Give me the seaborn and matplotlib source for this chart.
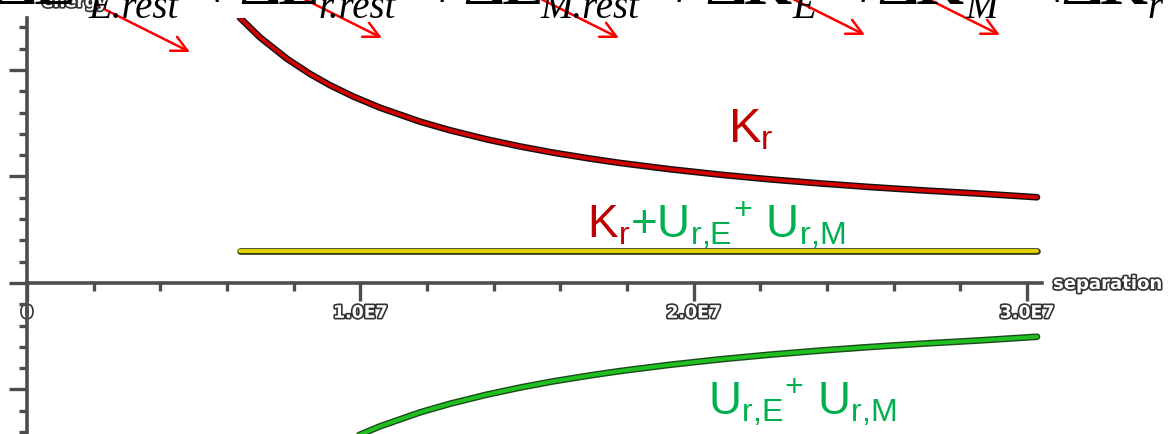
import matplotlib
matplotlib.use("Agg")
import matplotlib.pyplot as plt
import matplotlib.patheffects as pe
from matplotlib.ticker import MultipleLocator, FuncFormatter
import seaborn as sns

# --- data (separation in m, energy in arbitrary units) ---
kr_sep = [0.639e7, 0.699e7, 0.780e7, 0.849e7, 0.909e7, 0.978e7, 1.059e7, 1.179e7,
          1.269e7, 1.380e7, 1.479e7, 1.578e7, 1.689e7, 1.779e7, 1.929e7, 2.079e7,
          2.229e7, 2.379e7, 2.529e7, 2.679e7, 2.859e7, 3.030e7]
kr_energy = [2.489, 2.306, 2.105, 1.963, 1.857, 1.752, 1.646, 1.515,
             1.434, 1.348, 1.282, 1.224, 1.168, 1.127, 1.068, 1.017,
             0.973, 0.935, 0.901, 0.871, 0.839, 0.805]

u_sep = [0.909e7, 0.978e7, 1.059e7, 1.179e7, 1.269e7, 1.380e7, 1.479e7, 1.578e7,
         1.689e7, 1.779e7, 1.929e7, 2.079e7, 2.229e7, 2.379e7, 2.529e7, 2.679e7,
         2.859e7, 3.030e7]
u_energy = [-1.557, -1.452, -1.346, -1.215, -1.134, -1.048, -0.982, -0.924,
            -0.868, -0.827, -0.768, -0.717, -0.673, -0.635, -0.601, -0.571,
            -0.539, -0.505]

total_sep = [0.639e7, 3.03e7]
total_energy = [0.30, 0.30]

x_major = [0, 1e7, 2e7, 3e7]

# cropped equation along the top edge
eq_terms = ["ΔE", "ΔE", "ΔE", "ΔK", "ΔK", "ΔK"]
eq_subs = ["E.rest", "r.rest", "M.rest", "E", "M", "r"]

W, H = 1171, 434
RED = "#c00000"
GREEN = "#00b050"
AXIS = "#4d4d4d"

sns.set_style("ticks")
plt.rcParams["mathtext.fontset"] = "custom"
plt.rcParams["mathtext.rm"] = "Liberation Sans"
plt.rcParams["mathtext.it"] = "Liberation Sans"
plt.rcParams["mathtext.bf"] = "Liberation Sans:bold"


def px(x, y):
    # image pixel (top-left origin) -> figure fraction
    return x / W, 1 - y / H


hollow = [pe.withStroke(linewidth=2.4, foreground="#333333")]

fig = plt.figure(figsize=(W / 100, H / 100), dpi=100)
ax = fig.add_axes([27 / W, 0, (1042 - 27) / W, (434 - 18) / H])
ax.set_xlim(0, 3.045e7)
ax.set_ylim(-1.418, 2.488)

# --- curves ---
sns.lineplot(x=kr_sep, y=kr_energy, ax=ax, color="#d00000", linewidth=2.8,
             path_effects=[pe.Stroke(linewidth=4.8, foreground="#111111"), pe.Normal()])
sns.lineplot(x=total_sep, y=total_energy, ax=ax, color="#e0d400", linewidth=2.8,
             path_effects=[pe.Stroke(linewidth=4.8, foreground="#3a3a10"), pe.Normal()])
sns.lineplot(x=u_sep, y=u_energy, ax=ax, color="#20c020", linewidth=2.8,
             path_effects=[pe.Stroke(linewidth=4.8, foreground="#1a4a1a"), pe.Normal()])

# --- axes ---
for side in ["top", "right"]:
    ax.spines[side].set_visible(False)
ax.spines["bottom"].set_position(("data", 0))
for side in ["left", "bottom"]:
    ax.spines[side].set_color(AXIS)
    ax.spines[side].set_linewidth(2.6)

ax.set_xticks(x_major)
ax.xaxis.set_minor_locator(MultipleLocator(2e6))
ax.yaxis.set_major_locator(MultipleLocator(1))
ax.yaxis.set_minor_locator(MultipleLocator(0.2))
ax.xaxis.set_major_formatter(FuncFormatter(lambda v, p: "0" if v == 0 else f"{v / 1e7:.1f}E7"))
ax.tick_params(which="major", length=13, width=2.4, color=AXIS, direction="out", pad=2)
ax.tick_params(which="minor", length=6, width=2.4, color=AXIS, direction="out")
ax.tick_params(axis="y", labelleft=False)
for lab in ax.get_xticklabels():
    lab.set_fontsize(12.5)
    lab.set_fontweight("bold")
    lab.set_color("white")
    lab.set_path_effects(hollow)
ax.set_xlabel("")
ax.set_ylabel("")

fig.text(*px(1053, 284), "separation", fontsize=13, fontweight="bold", color="white",
         va="center", ha="left", path_effects=hollow)
fig.text(*px(42, 2), "energy", fontsize=12, fontweight="bold", color="white",
         va="center", ha="left", path_effects=hollow)

# --- curve labels ---
fig.text(*px(728, 142), r"$\mathrm{K_r}$", fontsize=35, color=RED,
         va="baseline", ha="left", math_fontfamily="custom")
t1 = fig.text(*px(587, 238), r"$\mathrm{K_r}$", fontsize=33, color=RED,
              va="baseline", ha="left", math_fontfamily="custom")
fig.canvas.draw()
x1 = t1.get_window_extent().x1
fig.text(x1 / W, 1 - 238 / H, r"$\mathrm{+U_{r{,}E}{}^{+}\ U_{r{,}M}}$", fontsize=33,
         color=GREEN, va="baseline", ha="left", math_fontfamily="custom")
fig.text(*px(708, 414), r"$\mathrm{U_{r{,}E}{}^{+}\ U_{r{,}M}}$", fontsize=33,
         color=GREEN, va="baseline", ha="left", math_fontfamily="custom")

# --- cropped equation across the top (only its lower edge shows) ---
term_x = [-4, 240, 464, 706, 878, 1062]
plus_x = [200, 425, 662, 846, 1040]
sub_x = [88, 318, 540, 792, 965, 1147]
for s, x in zip(eq_terms, term_x):
    fig.text(*px(x, 4), s, fontsize=44, family="Liberation Serif", fontweight="bold",
             color="black", va="baseline", ha="left")
for x in plus_x:
    fig.text(*px(x, 8), "+", fontsize=44, family="Liberation Serif",
             color="black", va="baseline", ha="left")
for s, x in zip(eq_subs, sub_x):
    fig.text(*px(x, 18), s, fontsize=28, family="Liberation Serif", style="italic",
             color="black", va="baseline", ha="left")

# --- red arrows ---
tips = [(190, 52), (382, 38), (619, 38), (865, 35), (1000, 35)]
for tx, ty in tips:
    ax.annotate("", xy=(tx, H - ty), xytext=(tx - 2 * (ty + 10), H + 10),
                xycoords="figure pixels", textcoords="figure pixels",
                annotation_clip=False,
                arrowprops=dict(arrowstyle="->", color="red", lw=1.8,
                                mutation_scale=28, shrinkA=0, shrinkB=0))

fig.savefig("out.png", dpi=100)
